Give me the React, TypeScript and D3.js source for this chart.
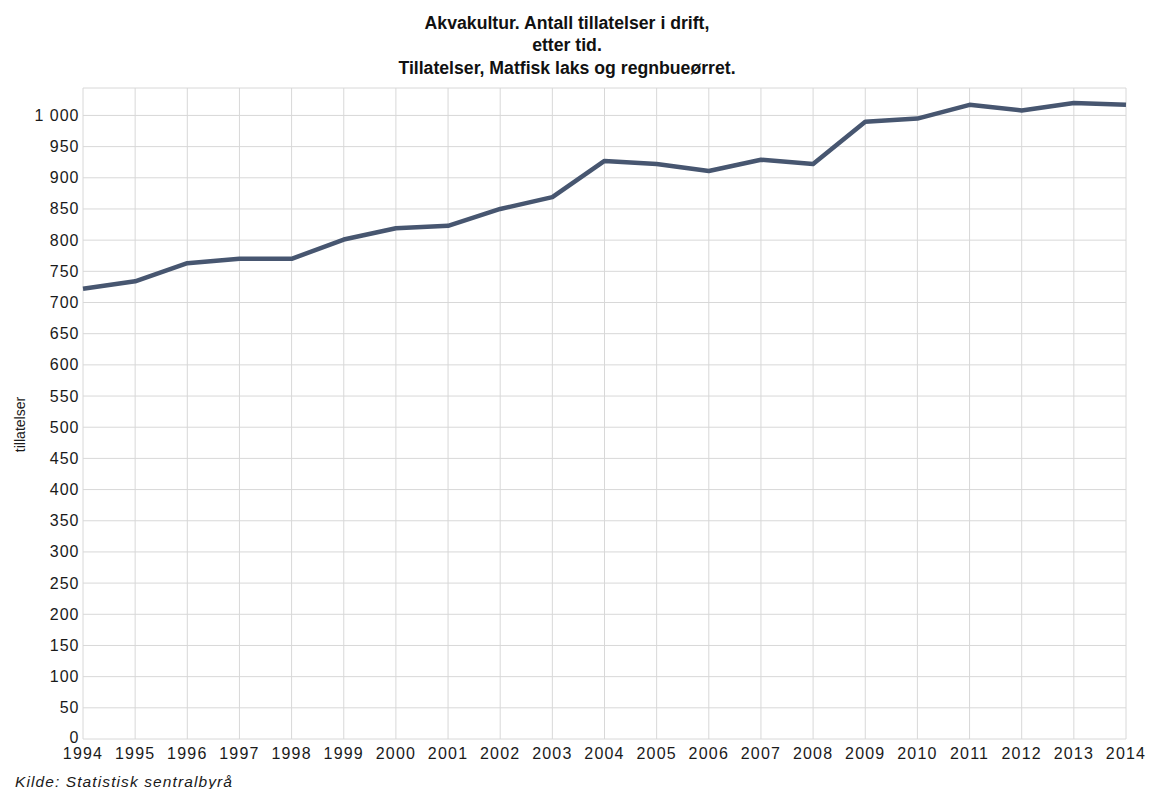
import React from "react";
import * as d3 from "d3";

const years: number[] = [1994, 1995, 1996, 1997, 1998, 1999, 2000, 2001, 2002, 2003, 2004, 2005, 2006, 2007, 2008, 2009, 2010, 2011, 2012, 2013, 2014];
const permits: number[] = [722, 734, 763, 770, 770, 801, 819, 823, 850, 869, 927, 922, 911, 929, 922, 990, 995, 1017, 1008, 1020, 1017];
const yTicks: number[] = [0, 50, 100, 150, 200, 250, 300, 350, 400, 450, 500, 550, 600, 650, 700, 750, 800, 850, 900, 950, 1000];
const titleLines: string[] = [
  "Akvakultur. Antall tillatelser i drift,",
  "etter tid.",
  "Tillatelser, Matfisk laks og regnbueørret.",
];
const yAxisTitle = "tillatelser";
const sourceText = "Kilde: Statistisk sentralbyrå";

const W = 1154;
const H = 789;
const left = 83;
const right = 1126;
const top = 88;
const bottom = 739;

const fmt = (v: number) => (v >= 1000 ? d3.format(",")(v).replace(",", " ") : String(v));

export default function App() {
  const x = d3.scaleLinear().domain([years[0], years[years.length - 1]]).range([left, right]);
  const y = d3.scaleLinear().domain([0, 1044]).range([bottom, top]);
  const line = d3
    .line<number>()
    .x((_, i) => x(years[i]))
    .y((d) => y(d));

  const grid = "#d8d8d8";
  const labelFont = "'Liberation Sans', Arial, sans-serif";
  const titleBaselines = [29, 51.5, 74];
  const titleCx = 567;
  const titleSx = 0.93;

  return (
    <svg width={W} height={H} style={{ position: "absolute", left: 0, top: 0, background: "#fff" }}>
      <rect x={0} y={0} width={W} height={H} fill="#fff" />
      {/* title, slightly condensed */}
      <g transform={`translate(${titleCx},0) scale(${titleSx},1)`}>
        {titleLines.map((t, i) => (
          <text
            key={t}
            x={0}
            y={titleBaselines[i]}
            textAnchor="middle"
            fontFamily={labelFont}
            fontWeight="bold"
            fontSize={19}
            fill="#111"
          >
            {t}
          </text>
        ))}
      </g>
      {/* grid */}
      {yTicks.map((v) => (
        <line key={"h" + v} x1={left} x2={right} y1={y(v)} y2={y(v)} stroke={grid} strokeWidth={1} />
      ))}
      <line x1={left} x2={right} y1={top} y2={top} stroke={grid} strokeWidth={1} />
      {years.map((yr) => (
        <line key={"v" + yr} x1={x(yr)} x2={x(yr)} y1={top} y2={bottom} stroke={grid} strokeWidth={1} />
      ))}
      {/* y tick labels */}
      {yTicks.map((v) => (
        <text
          key={"yl" + v}
          x={79.5}
          y={y(v) + (v === 0 ? 4 : 5.5)}
          textAnchor="end"
          fontFamily={labelFont}
          fontSize={16}
          letterSpacing={1}
          fill="#1a1a1a"
        >
          {fmt(v)}
        </text>
      ))}
      {/* x tick labels */}
      {years.map((yr) => (
        <text
          key={"xl" + yr}
          x={x(yr)}
          y={759}
          textAnchor="middle"
          fontFamily={labelFont}
          fontSize={16}
          letterSpacing={1.2}
          fill="#1a1a1a"
        >
          {yr}
        </text>
      ))}
      {/* axis title */}
      <text
        transform={`translate(25,424.5) rotate(-90)`}
        textAnchor="middle"
        fontFamily={labelFont}
        fontSize={14}
        fill="#1a1a1a"
      >
        {yAxisTitle}
      </text>
      {/* series */}
      <path d={line(permits) || ""} fill="none" stroke="#475670" strokeWidth={4.5} strokeLinejoin="round" />
      {/* source */}
      <text
        x={15}
        y={787}
        fontFamily={labelFont}
        fontStyle="italic"
        fontSize={15.5}
        letterSpacing={1.1}
        fill="#1a1a1a"
      >
        {sourceText}
      </text>
    </svg>
  );
}
